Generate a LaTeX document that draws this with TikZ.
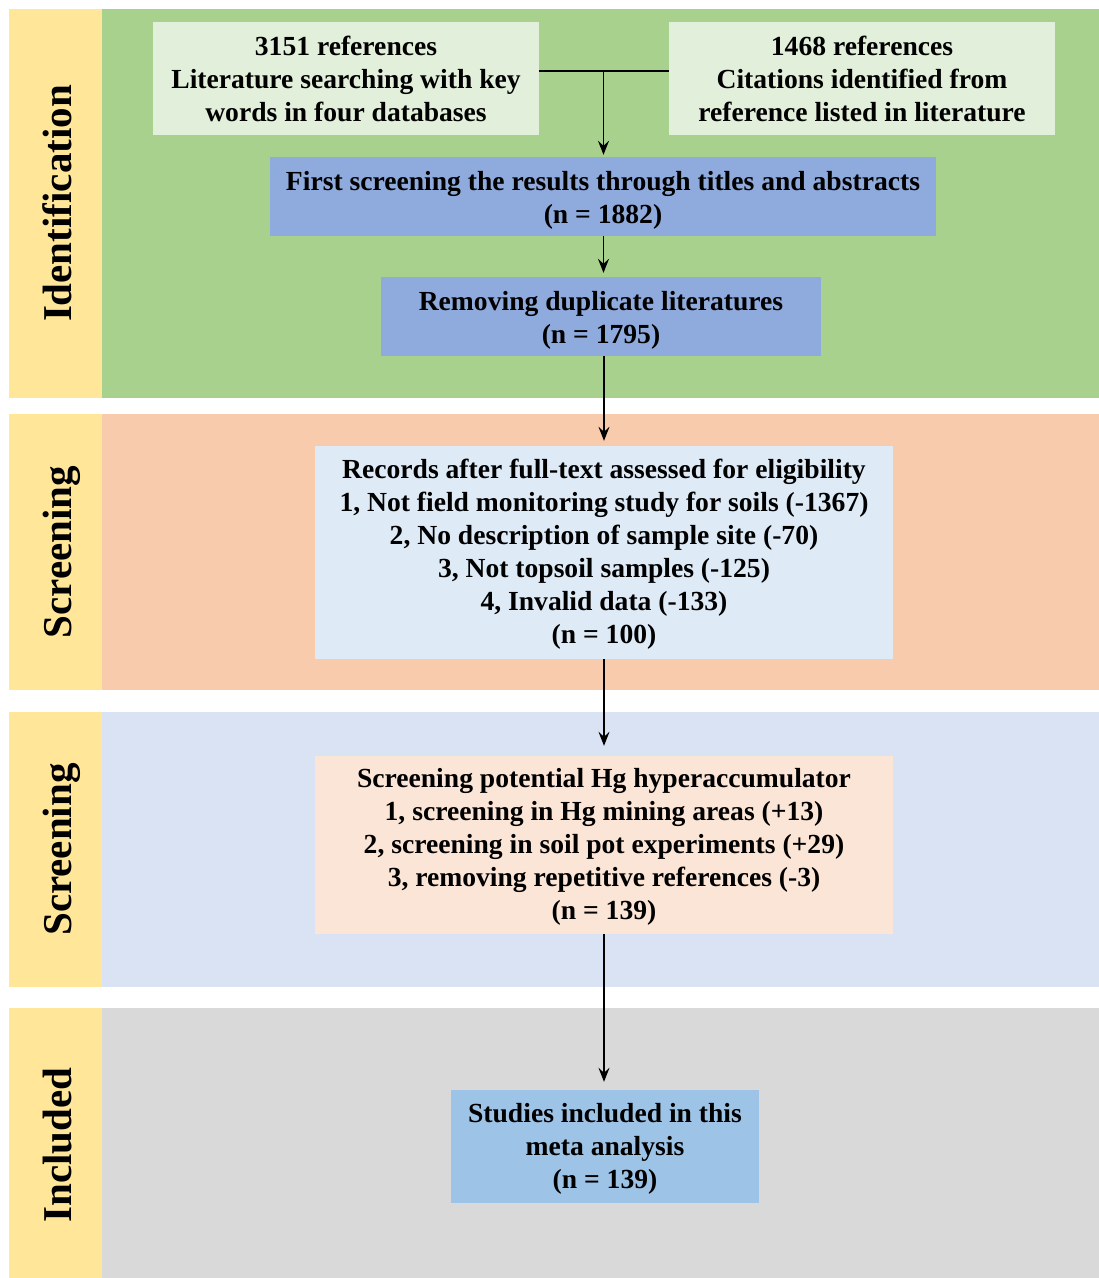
\documentclass[tikz,border=0pt]{standalone}
\usepackage{fontspec}
\setmainfont{Liberation Serif}
\usetikzlibrary{arrows.meta}
\definecolor{sideY}{HTML}{FFE699}
\definecolor{bandG}{HTML}{A9D18E}
\definecolor{bandO}{HTML}{F8CBAD}
\definecolor{bandB}{HTML}{DAE3F3}
\definecolor{bandK}{HTML}{D9D9D9}
\definecolor{boxLG}{HTML}{E2EFDA}
\definecolor{boxBl}{HTML}{8FAADC}
\definecolor{boxLB}{HTML}{DEEBF7}
\definecolor{boxPe}{HTML}{FBE5D6}
\definecolor{boxSk}{HTML}{9DC3E6}
\begin{document}
\begin{tikzpicture}[x=1pt,y=-1pt,
  stagebox/.style={inner sep=0pt},
  stagetext/.style={inner sep=0pt, align=center, font=\bfseries\fontsize{27.6}{33}\selectfont},
  sidelabel/.style={inner sep=0pt, rotate=90, anchor=base, font=\bfseries\fontsize{41}{45}\selectfont},
  arr/.style={-{Stealth[length=14pt,width=11pt,inset=5pt]}, line width=1.4pt},
  conn/.style={line width=1.4pt}]
\useasboundingbox (0,0) rectangle (1099,1278);
% bands
\fill[sideY] (9,9) rectangle (102,398);
\fill[bandG] (102,9) rectangle (1099,398);
\fill[sideY] (9,414) rectangle (102,690);
\fill[bandO] (102,414) rectangle (1099,690);
\fill[sideY] (9,712) rectangle (102,987);
\fill[bandB] (102,712) rectangle (1099,987);
\fill[sideY] (9,1008) rectangle (102,1278);
\fill[bandK] (102,1008) rectangle (1099,1278);
% side labels
\node[sidelabel] (L1) at (71,203.5) {Identification};
\node[sidelabel] (L2) at (71,552) {Screening};
\node[sidelabel] (L3) at (71,849.5) {Screening};
\node[sidelabel] (L4) at (71,1145) {Included};
% boxes
\node[stagebox, fill=boxLG, minimum width=386pt, minimum height=113pt] (A) at (346,78.5) {};
\node[stagebox, fill=boxLG, minimum width=386pt, minimum height=113pt] (B) at (862,78.5) {};
\node[stagebox, fill=boxBl, minimum width=666pt, minimum height=79pt] (C) at (603,196.5) {};
\node[stagebox, fill=boxBl, minimum width=440pt, minimum height=79pt] (D) at (601,316.5) {};
\node[stagebox, fill=boxLB, minimum width=578pt, minimum height=213pt] (E) at (604,552.5) {};
\node[stagebox, fill=boxPe, minimum width=578pt, minimum height=178pt] (F) at (604,845) {};
\node[stagebox, fill=boxSk, minimum width=308pt, minimum height=113pt] (G) at (605,1146.5) {};
% texts
\node[stagetext] (At) at (346,78.8)
  {3151 references\\Literature searching with key\\words in four databases};
\node[stagetext] (Bt) at (862,78.8)
  {1468 references\\Citations identified from\\reference listed in literature};
\node[stagetext] (Ct) at (603,200)
  {First screening the results through titles and abstracts\\(n = 1882)};
\node[stagetext] (Dt) at (601,320)
  {Removing duplicate literatures\\(n = 1795)};
\node[stagetext] (Et) at (604,554.3)
  {Records after full-text assessed for eligibility\\1, Not field monitoring study for soils (-1367)\\2, No description of sample site (-70)\\3, Not topsoil samples (-125)\\4, Invalid data (-133)\\(n = 100)};
\node[stagetext] (Ft) at (604,846.8)
  {Screening potential Hg hyperaccumulator\\1, screening in Hg mining areas (+13)\\2, screening in soil pot experiments (+29)\\3, removing repetitive references (-3)\\(n = 139)};
\node[stagetext] (Gt) at (605,1149.2)
  {Studies included in this\\meta analysis\\(n = 139)};
% connectors
\coordinate (J) at (603.5,71);
\draw[conn] (A.east |- J) -- (B.west |- J);
\draw[arr, shorten >=2pt] (J) -- (C.north -| J);
\draw[arr, shorten >=4pt] (C.south -| J) -- (D.north -| J);
\draw[arr, shorten >=5pt] (D.south -| E.north) -- (E.north);
\draw[arr, shorten >=10pt] (E.south) -- (F.north);
\draw[arr, shorten >=8pt] (F.south) -- (G.north -| F.south);
\end{tikzpicture}
\end{document}
